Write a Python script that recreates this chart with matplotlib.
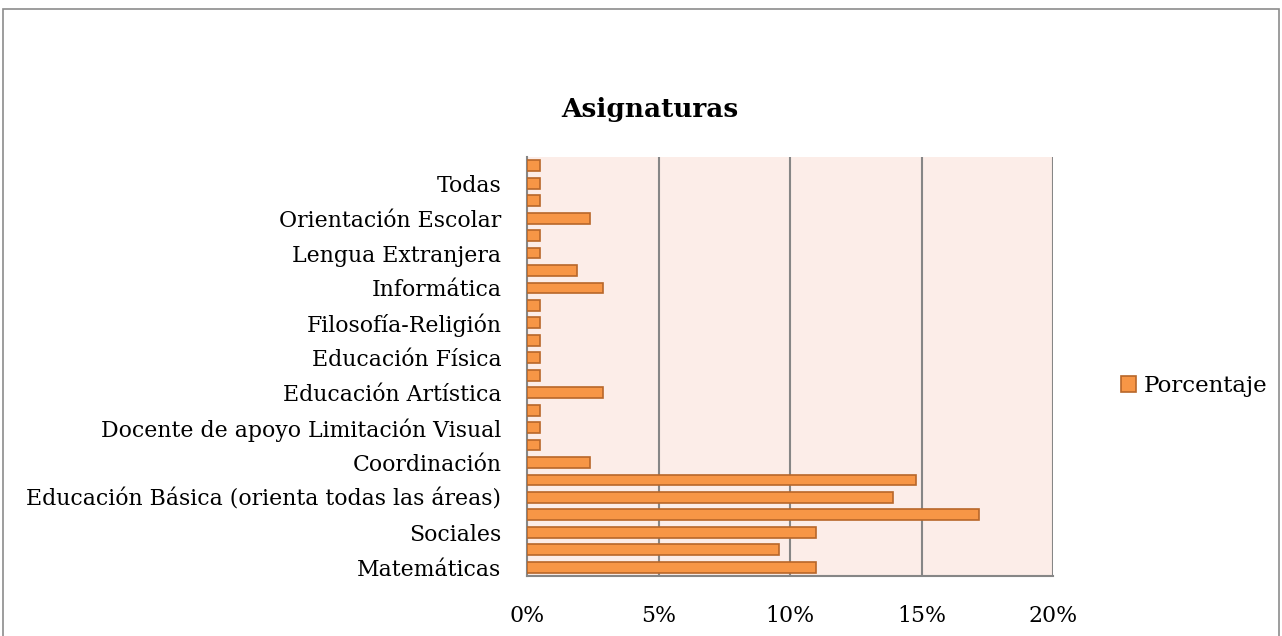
import matplotlib
matplotlib.use("Agg")
import matplotlib.pyplot as plt
from matplotlib.patches import Rectangle
from matplotlib.ticker import FuncFormatter

# Data (bottom to top)
categories = [
    "Matemáticas", "", "Sociales", "", "Educación Básica (orienta todas las áreas)", "",
    "Coordinación", "", "Docente de apoyo Limitación Visual", "", "Educación Artística", "",
    "Educación Física", "", "Filosofía-Religión", "", "Informática", "",
    "Lengua Extranjera", "", "Orientación Escolar", "", "Todas", "",
]
porcentaje = [
    11.0, 9.6, 11.0, 17.2, 13.9, 14.8,
    2.4, 0.5, 0.5, 0.5, 2.9, 0.5,
    0.5, 0.5, 0.5, 0.5, 2.9, 1.9,
    0.5, 0.5, 2.4, 0.5, 0.5, 0.5,
]
x_ticks = [0, 5, 10, 15, 20]
series_name = "Porcentaje"
title = "Asignaturas"

plt.rcParams['font.family'] = ['DejaVu Serif', 'Liberation Serif']

W, H = 1282, 636
fig = plt.figure(figsize=(W / 100, H / 100), dpi=100)
fig.patch.set_facecolor('white')

# outer chart border
fig.add_artist(Rectangle((3 / W, -0.02), (1276 / W), (H - 9) / H + 0.02,
                         transform=fig.transFigure, fill=False,
                         edgecolor='#8c8c8c', linewidth=1.2))

left, right, top, bottom = 527, 1053, 157, 576
ax = fig.add_axes([left / W, 1 - bottom / H, (right - left) / W, (bottom - top) / H])
ax.set_facecolor('#FCEDE8')

y = list(range(len(categories)))
ax.barh(y, porcentaje, height=0.62, color='#F79646', edgecolor='#B8672A',
        linewidth=1.2, label=series_name, zorder=3)

ax.set_xlim(0, 20)
ax.set_ylim(-0.5, len(categories) - 0.5)
ax.set_xticks(x_ticks)
ax.xaxis.set_major_formatter(FuncFormatter(lambda v, p: f"{int(v)}%"))
ax.set_yticks(y)
ax.set_yticklabels(categories)
ax.tick_params(axis='both', length=0, labelsize=15.8, colors='black')
ax.tick_params(axis='x', pad=21)
ax.tick_params(axis='y', pad=18.5)

for v in x_ticks[1:]:
    ax.axvline(v, color='#868686', linewidth=1.5, zorder=1)

ax.spines['top'].set_visible(False)
ax.spines['right'].set_visible(False)
ax.spines['left'].set_color('#868686')
ax.spines['left'].set_linewidth(1.5)
ax.spines['bottom'].set_color('#868686')
ax.spines['bottom'].set_linewidth(1.5)

fig.text(650 / W, 1 - 110 / H, title, ha='center', va='center',
         fontsize=19, fontweight='bold')

handles, labels = ax.get_legend_handles_labels()
fig.legend(handles, labels, loc='center left', bbox_to_anchor=(1121 / W, 1 - 386 / H),
           frameon=False, fontsize=16.5, handlelength=0.65, handleheight=0.65,
           handletextpad=0.35, borderaxespad=0, borderpad=0)

fig.savefig("out.png", dpi=100)
